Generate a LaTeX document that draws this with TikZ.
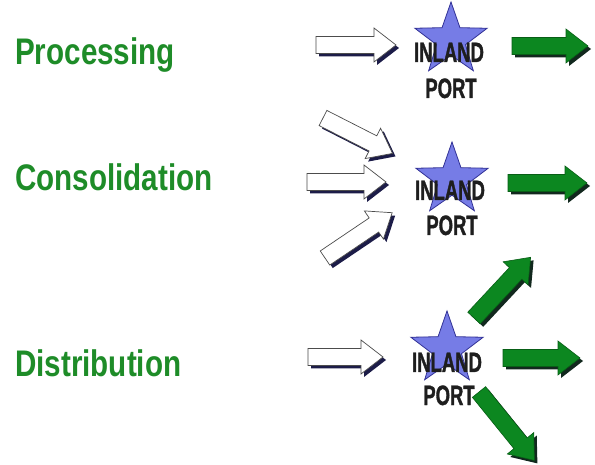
\documentclass[tikz,border=0pt]{standalone}
\usepackage{fontspec}
\usetikzlibrary{shapes.geometric}
\newfontfamily\narrowfont{Liberation Sans}[FakeStretch=0.8]
\newfontfamily\portfont{Liberation Sans}[FakeStretch=0.66, FakeBold=1.2]
\definecolor{lblgreen}{RGB}{30,140,40}
\definecolor{arrgreen}{RGB}{12,135,32}
\definecolor{starblue}{RGB}{118,124,230}
\definecolor{staredge}{RGB}{50,50,150}
\definecolor{navyshadow}{RGB}{28,28,72}
\definecolor{greenshadow}{RGB}{18,40,30}
\definecolor{porttextc}{RGB}{30,30,30}
\tikzset{
  lbl/.style={font=\narrowfont\bfseries\fontsize{37}{40}\selectfont, text=lblgreen, inner sep=0pt, anchor=base west},
  porttxt/.style={font=\portfont\bfseries\fontsize{28}{30}\selectfont, text=porttextc, inner sep=0pt, anchor=base},
  portstar/.style={star, star points=5, star point ratio=2.5, minimum size=76pt, inner sep=0pt, fill=starblue, draw=staredge, line width=0.8pt},
  whitearrow/.style={fill=white, draw=black!70, line width=0.7pt},
  greenarrow/.style={fill=arrgreen, draw=arrgreen!70!black, line width=0.6pt},
}
% #1 x, #2 y (tail centre), #3 angle, #4 length, #5 style, #6 shadow colour
\newcommand\blockarrow[6]{%
  \begin{scope}[shift={(#1+3,#2+3)}, rotate=#3]
    \fill[#6] (0,-8.5) -- (#4-22,-8.5) -- (#4-22,-17) -- (#4,0) -- (#4-22,17) -- (#4-22,8.5) -- (0,8.5) -- cycle;
  \end{scope}
  \begin{scope}[shift={(#1,#2)}, rotate=#3]
    \filldraw[#5] (0,-8.5) -- (#4-22,-8.5) -- (#4-22,-17) -- (#4,0) -- (#4-22,17) -- (#4-22,8.5) -- (0,8.5) -- cycle;
  \end{scope}
}
\begin{document}
\begin{tikzpicture}[x=1pt, y=-1pt]
\useasboundingbox[fill=white] (0,0) rectangle (595,465);

% labels
\node[lbl] (proc) at (15,65) {Processing};
\node[lbl] (cons) at (15,191) {Consolidation};
\node[lbl] (dist) at (15,377) {Distribution};

% row 1
\blockarrow{316}{45}{0}{80}{whitearrow}{navyshadow}
\node[portstar] (star1) at (451,40) {};
\node[porttxt] (in1) at (449,62) {INLAND};
\node[porttxt] (po1) at (451,98) {PORT};
\blockarrow{512}{46}{0}{76}{greenarrow}{greenshadow}

% row 2
\blockarrow{323}{118}{-27}{78}{whitearrow}{navyshadow}
\blockarrow{307}{182}{0}{79}{whitearrow}{navyshadow}
\blockarrow{325}{258}{34}{81}{whitearrow}{navyshadow}
\node[portstar] (star2) at (452,180) {};
\node[porttxt] (in2) at (450,200) {INLAND};
\node[porttxt] (po2) at (452,235) {PORT};
\blockarrow{508}{183}{0}{79}{greenarrow}{greenshadow}

% row 3
\blockarrow{308}{357}{0}{75}{whitearrow}{navyshadow}
\node[portstar] (star3) at (447,349) {};
\node[porttxt] (in3) at (447,372) {INLAND};
\node[porttxt] (po3) at (449,405) {PORT};
\blockarrow{503}{358}{0}{77}{greenarrow}{greenshadow}
\blockarrow{474}{318}{47}{83}{greenarrow}{greenshadow}
\blockarrow{479}{392}{-51}{88}{greenarrow}{greenshadow}
\end{tikzpicture}
\end{document}
